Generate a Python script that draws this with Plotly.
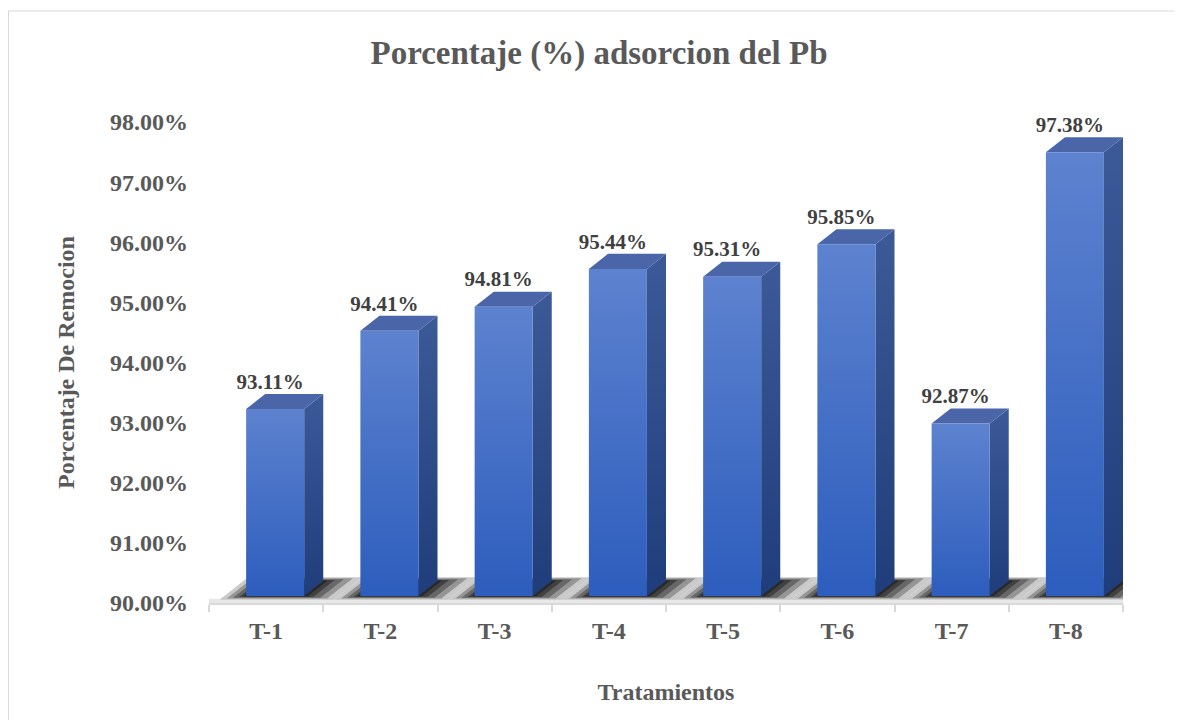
import plotly.graph_objects as go

# data
categories = ["T-1", "T-2", "T-3", "T-4", "T-5", "T-6", "T-7", "T-8"]
remocion = [93.11, 94.41, 94.81, 95.44, 95.31, 95.85, 92.87, 97.38]
y_min, y_max = 90, 98

# 3d look (axis units)
face_l, face_r = -0.175, 0.333   # front face relative to category centre
gap_y = 0.117                    # bars sit a bit behind the floor edge
dep_x, dep_y = 0.167, 0.25       # depth offset of the box
slant = dep_x / dep_y
serif = "Liberation Serif"

front_cs = [[0, "#2d5dbd"], [1, "#5d82cf"]]
side_cs = [[0, "#1f3d7a"], [1, "#3d5a98"]]
top_col = "#4a66a8"

fig = go.Figure()

def poly(xs, ys, **kw):
    fig.add_trace(go.Scatter(
        x=xs + [xs[0]], y=ys + [ys[0]], mode="lines", fill="toself",
        line=dict(width=0), hoverinfo="skip", showlegend=False, **kw))

# light floor edge
poly([-0.5, 7.5, 7.5, -0.5], [y_min, y_min, y_min + 0.07, y_min + 0.07],
     fillcolor="#e8e8e8")

for i, v in enumerate(remocion):
    xl, xr = i + face_l, i + face_r
    b, t = y_min + gap_y, v + gap_y
    # soft shadow on the floor (parallelogram following the depth direction)
    for el, er, a in [(0.19, 0.3, 0.22), (0.14, 0.23, 0.28), (0.095, 0.16, 0.34),
                      (0.05, 0.09, 0.42), (0.02, 0.035, 0.5)]:
        f = el / 0.19
        y0, y1 = b - 0.06 * f, b + dep_y + 0.06 * f
        s0, s1 = slant * (y0 - b), slant * (y1 - b)
        poly([xl - el + s0, xr + er + s0, xr + er + s1, xl - el + s1],
             [y0, y0, y1, y1], fillcolor=f"rgba(15,15,15,{a})")
    # side face
    poly([xr, xr + dep_x, xr + dep_x, xr], [b, b + dep_y, t + dep_y, t],
         fillgradient=dict(type="vertical", colorscale=side_cs))
    # top face
    poly([xl, xr, xr + dep_x, xl + dep_x], [t, t, t + dep_y, t + dep_y],
         fillcolor=top_col)
    # front face
    poly([xl, xr, xr, xl], [b, b, t, t],
         fillgradient=dict(type="vertical", colorscale=front_cs))

fig.add_trace(go.Scatter(
    x=[i + 0.035 for i in range(len(remocion))],
    y=[v + gap_y + dep_y for v in remocion],
    mode="text", text=[f"{v:.2f}%" for v in remocion],
    textposition="top center", cliponaxis=False, showlegend=False,
    textfont=dict(family=serif, size=21, color="#404040", weight="bold"),
    hoverinfo="skip"))

# outer frame
fig.add_shape(type="rect", xref="paper", yref="paper",
              x0=-0.2194, x1=1.09, y0=-0.3, y1=1.2308,
              line=dict(color="#d9d9d9", width=1), layer="below")

fig.update_layout(
    width=1182, height=720,
    margin=dict(l=201, r=67, t=114, b=125),
    paper_bgcolor="white", plot_bgcolor="white",
    title=dict(text="Porcentaje (%) adsorcion del Pb",
               x=0.4267, xref="paper", xanchor="center",
               y=1 - 44 / 720, yref="container", yanchor="middle",
               font=dict(family=serif, size=33, color="#595959", weight="bold")),
    xaxis=dict(range=[-0.5, 7.5], tickmode="array",
               tickvals=list(range(len(categories))), ticktext=categories,
               ticks="", showgrid=False, zeroline=False,
               showline=True, linecolor="#d9d9d9", linewidth=2,
               minor=dict(tickmode="array",
                          tickvals=[k - 0.5 for k in range(len(categories) + 1)],
                          ticks="outside", ticklen=7, tickwidth=2,
                          tickcolor="#d9d9d9", showgrid=False),
               ticklabelstandoff=5,
               tickfont=dict(family=serif, size=24, color="#595959", weight="bold"),
               title=dict(text="Tratamientos", standoff=40,
                          font=dict(family=serif, size=24, color="#595959", weight="bold"))),
    yaxis=dict(range=[y_min, y_max], dtick=1, tickformat=".2f", ticksuffix="%",
               showgrid=False, zeroline=False, showline=False, ticks="",
               ticklabelstandoff=20,
               tickfont=dict(family=serif, size=24, color="#595959", weight="bold"),
               title=dict(text="Porcentaje De Remocion", standoff=28,
                          font=dict(family=serif, size=24, color="#595959", weight="bold"))),
)

fig.write_html("out.html")
